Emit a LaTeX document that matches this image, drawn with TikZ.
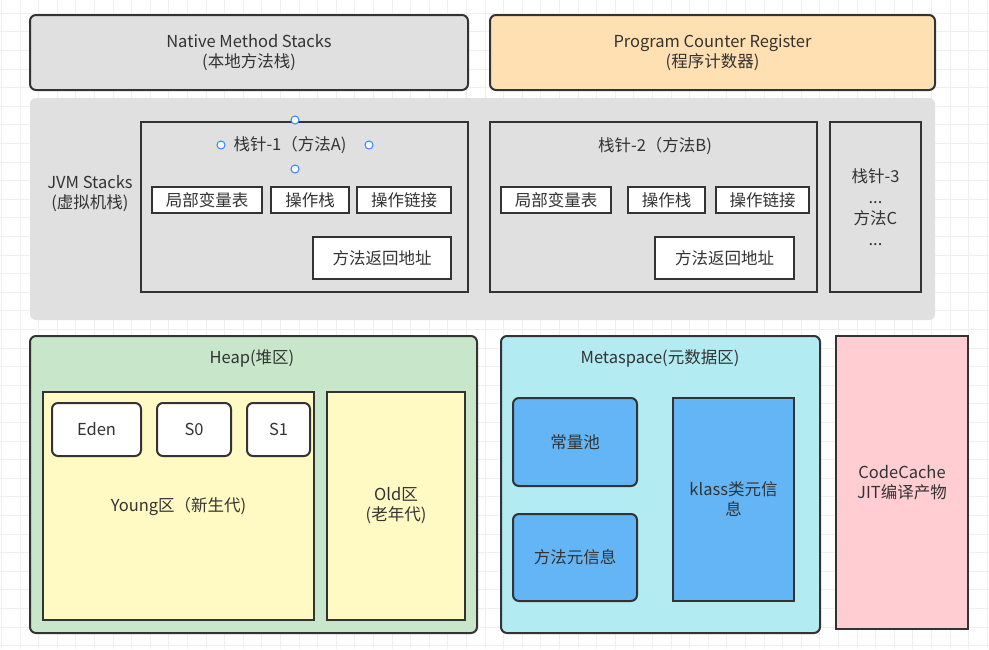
\documentclass[tikz,border=0pt]{standalone}
\usepackage{fontspec}
\setmainfont{Noto Sans CJK SC}
\usetikzlibrary{positioning}
\definecolor{txt}{HTML}{333333}
\definecolor{edge}{HTML}{333333}
\definecolor{grayfill}{HTML}{E0E0E0}
\definecolor{peach}{HTML}{FFE0B2}
\definecolor{heapg}{HTML}{C8E6C9}
\definecolor{youngy}{HTML}{FFF9C4}
\definecolor{metac}{HTML}{B2EBF2}
\definecolor{blueb}{HTML}{64B5F6}
\definecolor{pinkc}{HTML}{FFCDD2}
\definecolor{gridc}{HTML}{EFEFEF}
\definecolor{handle}{HTML}{2D86FF}
\tikzset{
  base/.style={draw=edge, line width=2pt, inner sep=0pt, anchor=north west, text=txt,
    align=center, font=\fontsize{16.5}{20}\selectfont},
  rbox/.style={base, rounded corners=6pt},
  sbox/.style={base},
  lbl/.style={text=txt, inner sep=0pt, align=center, font=\fontsize{16.5}{20}\selectfont},
  hnd/.style={circle, draw=handle, fill=white, line width=1pt, minimum size=8pt, inner sep=0pt},
}
\newcommand{\bx}[7]{% style, name, x1, y1, x2, y2, text
  \node[#1, minimum width={#5-#3}, minimum height={#6-#4}] (#2) at (#3,#4) {#7};}
\begin{document}
\begin{tikzpicture}[x=1pt,y=-1pt]
\useasboundingbox (0,0) rectangle (989,649);
% grid
\foreach \k in {0,...,53} {\draw[gridc, line width=1pt] (1.4+18.6*\k,0) -- (1.4+18.6*\k,649);}
\foreach \k in {0,...,34} {\draw[gridc, line width=1pt] (0,13.3+18.6*\k) -- (989,13.3+18.6*\k);}

% top row
\bx{rbox, fill=grayfill}{nms}{29}{14}{467}{89}{Native Method Stacks\\(本地方法栈)}
\bx{rbox, fill=peach}{pcr}{489}{14}{934}{89}{Program Counter Register\\(程序计数器)}

% JVM stacks area
\bx{rbox, draw=none, fill=grayfill}{jvm}{29}{97}{934}{319}{}
\node[lbl] (jvmlbl) at (90,194) {JVM Stacks\\(虚拟机栈)};

% frame 1
\bx{sbox, fill=grayfill}{f1}{140}{121}{467}{291}{}
\node[lbl] (f1t) at (290,145) {栈针-1（方法A)};
\bx{sbox, fill=white}{f1a}{151}{186}{261}{212}{局部变量表}
\bx{sbox, fill=white}{f1b}{270}{186}{348}{212}{操作栈}
\bx{sbox, fill=white}{f1c}{356}{186}{450}{212}{操作链接}
\bx{sbox, fill=white}{f1d}{312}{236}{450}{278}{方法返回地址}
\node[hnd] (h1) at (295,120) {};
\node[hnd] (h2) at (221,145) {};
\node[hnd] (h3) at (369,145) {};
\node[hnd] (h4) at (295,169) {};

% frame 2
\bx{sbox, fill=grayfill}{f2}{489}{121}{816}{291}{}
\node[lbl] (f2t) at (655,146) {栈针-2（方法B)};
\bx{sbox, fill=white}{f2a}{500}{186}{610}{212}{局部变量表}
\bx{sbox, fill=white}{f2b}{627}{186}{704}{212}{操作栈}
\bx{sbox, fill=white}{f2c}{715}{186}{808}{212}{操作链接}
\bx{sbox, fill=white}{f2d}{654}{236}{793}{278}{方法返回地址}

% frame 3
\bx{sbox, fill=grayfill, font=\fontsize{16.5}{21}\selectfont}{f3}{829}{121}{920}{291}{栈针-3\\...\\方法C\\...}

% heap
\bx{rbox, fill=heapg}{heap}{29}{335}{476}{632}{}
\node[lbl] (heapt) at (252,358) {Heap(堆区)};
\bx{sbox, fill=youngy}{young}{42}{391}{313}{619}{Young区（新生代)}
\bx{rbox, fill=white}{eden}{51}{402}{140}{455}{Eden}
\bx{rbox, fill=white}{s0}{156}{402}{230}{455}{S0}
\bx{rbox, fill=white}{s1}{246}{402}{309}{455}{S1}
\bx{sbox, fill=youngy}{old}{326}{391}{464}{619}{Old区\\(老年代)}

% metaspace
\bx{rbox, fill=metac}{meta}{500}{335}{819}{632}{}
\node[lbl] (metat) at (660,358) {Metaspace(元数据区)};
\bx{rbox, fill=blueb}{cpool}{512}{397}{636}{485}{常量池}
\bx{rbox, fill=blueb}{minfo}{512}{513}{636}{600}{方法元信息}
\bx{sbox, fill=blueb}{klass}{672}{397}{793}{600}{klass类元信\\息}

% code cache
\bx{sbox, fill=pinkc}{cc}{835}{335}{967}{628}{CodeCache\\JIT编译产物}
\end{tikzpicture}
\end{document}
